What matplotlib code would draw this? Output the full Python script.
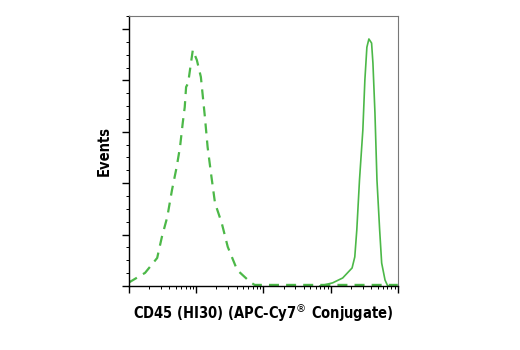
import matplotlib
matplotlib.use("Agg")
import matplotlib.pyplot as plt
from matplotlib.ticker import MultipleLocator, LogLocator, NullFormatter
import numpy as np

# histogram outlines (x = intensity as log10, y = % of max)
iso_logx = [0.99, 1.24, 1.42, 1.49, 1.57, 1.64, 1.71, 1.76, 1.80, 1.83, 1.85, 1.88,
            1.95, 2.01, 2.07, 2.13, 2.17, 2.22, 2.28, 2.38, 2.47, 2.61, 2.80, 2.87,
            3.5, 4.0, 4.5, 5.0]
iso_y = [1.2, 5.1, 10.9, 19.1, 26.8, 37.3, 46.3, 54.1, 63.4, 69.6, 77.4, 78.9,
         91.8, 87.9, 81.3, 65.7, 54.1, 43.9, 32.3, 24.5, 15.2, 6.2, 1.6, 0.4,
         0.4, 0.4, 0.4, 0.4]

cd45_logx = [3.84, 4.03, 4.18, 4.32, 4.36, 4.39, 4.43, 4.48, 4.51, 4.54, 4.57,
             4.61, 4.63, 4.66, 4.69, 4.73, 4.76, 4.81, 4.85, 4.95]
cd45_y = [0, 1.2, 3.1, 7.0, 11.3, 21.8, 41.2, 60.7, 80.1, 92.9, 96.1,
          94.5, 86.7, 67.3, 41.2, 21.8, 8.9, 2.3, 0, 0]

green = '#4cb848'

fig = plt.figure(figsize=(5.2, 3.5), dpi=100)
ax = fig.add_axes([0.248, 0.183, 0.517, 0.771])

ax.plot(10 ** np.array(iso_logx), iso_y, color=green, lw=1.6, dashes=(4.5, 3.2))
ax.plot(10 ** np.array(cd45_logx), cd45_y, color=green, lw=1.2)

ax.set_xscale('log')
ax.set_xlim(10, 1e5)
ax.set_ylim(0, 105)

ax.yaxis.set_major_locator(MultipleLocator(20))
ax.yaxis.set_minor_locator(MultipleLocator(5))
ax.xaxis.set_major_locator(LogLocator(base=10, numticks=10))
ax.xaxis.set_minor_locator(LogLocator(base=10, subs=np.arange(2, 10), numticks=10))
ax.xaxis.set_major_formatter(NullFormatter())
ax.xaxis.set_minor_formatter(NullFormatter())
ax.yaxis.set_major_formatter(NullFormatter())

ax.tick_params(which='major', length=5, width=1, color='black')
ax.tick_params(which='minor', length=2.5, width=0.7, color='black')

for s in ['top', 'right']:
    ax.spines[s].set_color('#777777')
    ax.spines[s].set_linewidth(0.8)
for s in ['left', 'bottom']:
    ax.spines[s].set_color('black')
    ax.spines[s].set_linewidth(1.0)

fnt = dict(family=['DejaVu Sans'], stretch='condensed', weight='bold', size=10.5)
ax.set_xlabel('CD45 (HI30) (APC-Cy7$^{\\circledR}$ Conjugate)', labelpad=3, **fnt)
ax.set_ylabel('Events', labelpad=4, **fnt)

fig.savefig('out.png', dpi=100)
